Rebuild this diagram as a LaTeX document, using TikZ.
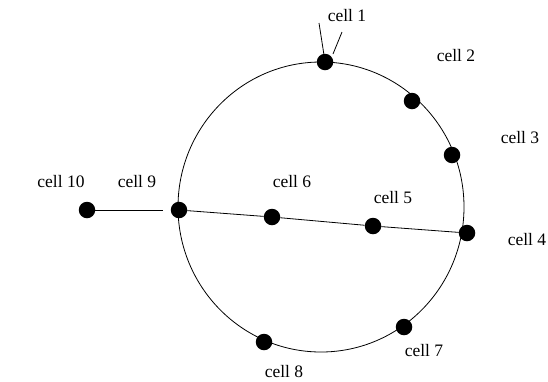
\documentclass[tikz,border=0pt]{standalone}
\usepackage{fontspec}
\setmainfont{Liberation Serif}
\begin{document}
\begin{tikzpicture}[x=1pt,y=-1pt,
  dot/.style={circle,fill=black,inner sep=0pt,minimum size=16.5pt},
  lbl/.style={inner sep=0pt,font=\fontsize{17.5}{20}\selectfont},
  conn/.style={line width=0.8pt}]
\useasboundingbox (0,0) rectangle (548,381);
\fill[white] (0,0) rectangle (548,381);
% ring
\draw[conn] (321,207) ellipse [x radius=143pt, y radius=145pt];
% dots
\node[dot] (d1) at (325,62) {};
\node[dot] (d2) at (412,101) {};
\node[dot] (d3) at (452,155) {};
\node[dot] (d4) at (467,233) {};
\node[dot] (d5) at (373,226) {};
\node[dot] (d6) at (272,217) {};
\node[dot] (d7) at (404,327) {};
\node[dot] (d8) at (264,342) {};
\node[dot] (d9) at (179,210) {};
\node[dot] (d10) at (87,210) {};
% connectors
\draw[conn] (d9) -- (d6) -- (d5) -- (d4);
\coordinate (e10) at (163,210);
\draw[conn] (d10) -- (e10);
\coordinate (a1) at (324,55);
\coordinate (a2) at (319,23);
\coordinate (b1) at (333,54);
\coordinate (b2) at (342,32);
\draw[conn] (a1) -- (a2);
\draw[conn] (b1) -- (b2);
% labels
\node[lbl] (l1) at (347,16) {cell 1};
\node[lbl] (l2) at (456,56) {cell 2};
\node[lbl] (l3) at (520,138) {cell 3};
\node[lbl] (l4) at (527,240) {cell 4};
\node[lbl] (l5) at (393,198) {cell 5};
\node[lbl] (l6) at (292,182) {cell 6};
\node[lbl] (l7) at (424,351) {cell 7};
\node[lbl] (l8) at (284,372) {cell 8};
\node[lbl] (l9) at (137,182) {cell 9};
\node[lbl] (l10) at (61,182) {cell 10};
\end{tikzpicture}
\end{document}
